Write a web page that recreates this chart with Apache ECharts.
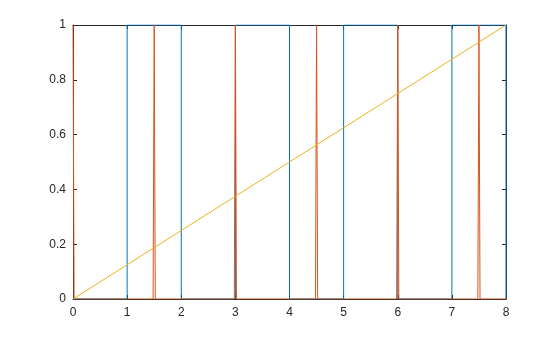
<!DOCTYPE html>
<html>
<head>
<meta charset="utf-8">
<script src="https://cdn.jsdelivr.net/npm/echarts@6/dist/echarts.min.js"></script>
<style>html,body{margin:0;padding:0;background:#fff;}#c{width:560px;height:337px;}</style>
</head>
<body>
<div id="c"></div>
<script>
// Blue square wave [t, value]
var squareWave = [[0,0],[1,0],[1,1],[2,1],[2,0],[3,0],[3,1],[4,1],[4,0],[5,0],[5,1],[6,1],[6,0],[7,0],[7,1],[8,1],[8,0]];
// Orange narrow pulses [t, value]
var pulses = [[0,1],[0.02,0],[1.48,0],[1.5,1],[1.52,0],[2.98,0],[3,1],[3.02,0],[4.48,0],[4.5,1],[4.52,0],[5.98,0],[6,1],[6.02,0],[7.48,0],[7.5,1],[7.52,0],[8,0]];
// Yellow ramp [t, value]
var ramp = [[0,0],[8,1]];
var xTicks = [0,1,2,3,4,5,6,7,8];
var yTicks = [0,0.2,0.4,0.6,0.8,1];

var axisColor = '#262626';
var font = 'Liberation Sans, Arial, Helvetica, sans-serif';
function xAx(pos, showLabel){
  return {type:'value', position:pos, min:0, max:8, interval:1,
    axisLine:{show:true, onZero:false, lineStyle:{color:axisColor, width:1}},
    axisTick:{show:true, inside:true, length:4, lineStyle:{color:axisColor}},
    axisLabel:{show:showLabel, color:axisColor, fontSize:12, fontFamily:font, margin:8,
      formatter:function(v){return xTicks.indexOf(v)>=0 ? String(v) : '';}},
    splitLine:{show:false}};
}
function yAx(pos, showLabel){
  return {type:'value', position:pos, min:0, max:1, interval:0.2,
    axisLine:{show:true, onZero:false, lineStyle:{color:axisColor, width:1}},
    axisTick:{show:true, inside:true, length:4, lineStyle:{color:axisColor}},
    axisLabel:{show:showLabel, color:axisColor, fontSize:12, fontFamily:font, margin:7,
      formatter:function(v){var r=Math.round(v*10)/10; return yTicks.indexOf(r)>=0 ? String(r) : '';}},
    splitLine:{show:false}};
}
var chart = echarts.init(document.getElementById('c'), null, {renderer:'canvas'});
chart.setOption({
  animation:false,
  backgroundColor:'#fff',
  grid:{left:73, top:25, right:54, bottom:38},
  xAxis:[xAx('bottom', true), xAx('top', false)],
  yAxis:[yAx('left', true), yAx('right', false)],
  series:[
    {type:'line', data:squareWave, showSymbol:false, lineStyle:{color:'#0072BD', width:1}, itemStyle:{color:'#0072BD'}, z:2},
    {type:'line', data:pulses, showSymbol:false, lineStyle:{color:'#D95319', width:1}, itemStyle:{color:'#D95319'}, z:3},
    {type:'line', data:ramp, showSymbol:false, lineStyle:{color:'#EDB120', width:1}, itemStyle:{color:'#EDB120'}, z:4}
  ]
});
</script>
</body>
</html>
